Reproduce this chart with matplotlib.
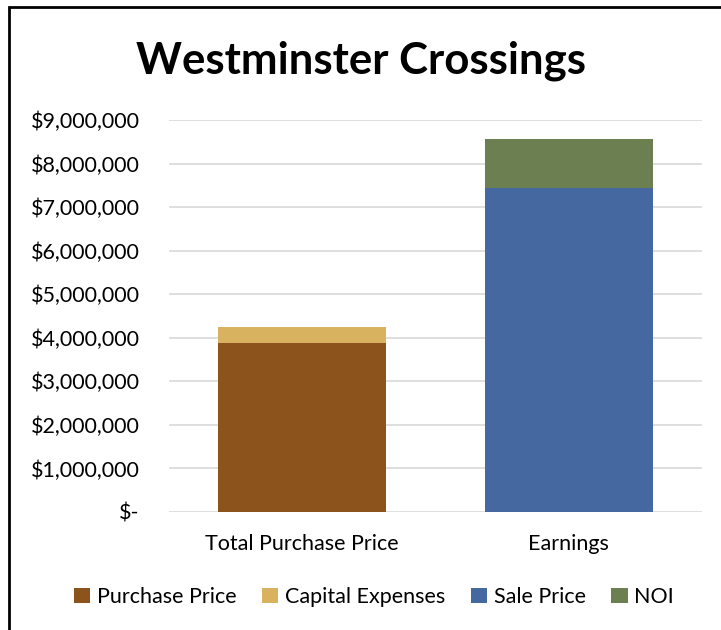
import matplotlib.pyplot as plt
from matplotlib.patches import Rectangle
from matplotlib.ticker import FuncFormatter

plt.rcParams["font.family"] = ["Lato", "DejaVu Sans"]

categories = ["Total Purchase Price", "Earnings"]
purchase_price = [3880000, 0]
capital_expenses = [370000, 0]
sale_price = [0, 7440000]
noi = [0, 1120000]

colors = {
    "Purchase Price": "#8C531D",
    "Capital Expenses": "#D9B25F",
    "Sale Price": "#4568A0",
    "NOI": "#6B7F50",
}

fig = plt.figure(figsize=(7.21, 6.30), dpi=100)
ax = fig.add_axes([169 / 721, 118 / 630, 533 / 721, 392 / 630])

x = range(len(categories))
w = 0.63
ax.bar(x, purchase_price, w, color=colors["Purchase Price"], label="Purchase Price", zorder=3)
ax.bar(x, capital_expenses, w, bottom=purchase_price, color=colors["Capital Expenses"],
       label="Capital Expenses", zorder=3)
ax.bar(x, sale_price, w, color=colors["Sale Price"], label="Sale Price", zorder=3)
ax.bar(x, noi, w, bottom=sale_price, color=colors["NOI"], label="NOI", zorder=3)

ax.set_xlim(-0.5, 1.5)
ax.set_ylim(0, 9000000)
ax.set_yticks(range(0, 9000001, 1000000))


def money(v, pos):
    if v == 0:
        return "$-"
    return "${:,.0f}".format(v)


ax.yaxis.set_major_formatter(FuncFormatter(money))
ax.set_xticks(list(x))
ax.set_xticklabels(categories)
ax.tick_params(axis="both", length=0, labelsize=15.5, colors="black")
ax.tick_params(axis="y", pad=21)
ax.tick_params(axis="x", pad=16)
ax.grid(axis="y", color="#D9D9D9", linewidth=1.2, zorder=0)
for s in ax.spines.values():
    s.set_visible(False)

fig.text(0.5, 1 - 61 / 630, "Westminster Crossings", ha="center", va="center",
         fontsize=31.5, fontweight="bold")

fig.legend(loc="center", bbox_to_anchor=(374 / 721, 1 - 597 / 630), ncol=4,
           frameon=False, fontsize=15.5, handlelength=0.75, handleheight=0.75,
           handletextpad=0.3, columnspacing=1.2)

fig.patches.append(Rectangle((9 / 721, -0.1), 1.2, 1 - 7 / 630 + 0.1,
                             transform=fig.transFigure, fill=False,
                             edgecolor="black", linewidth=2))

fig.savefig("out.png", dpi=100)
